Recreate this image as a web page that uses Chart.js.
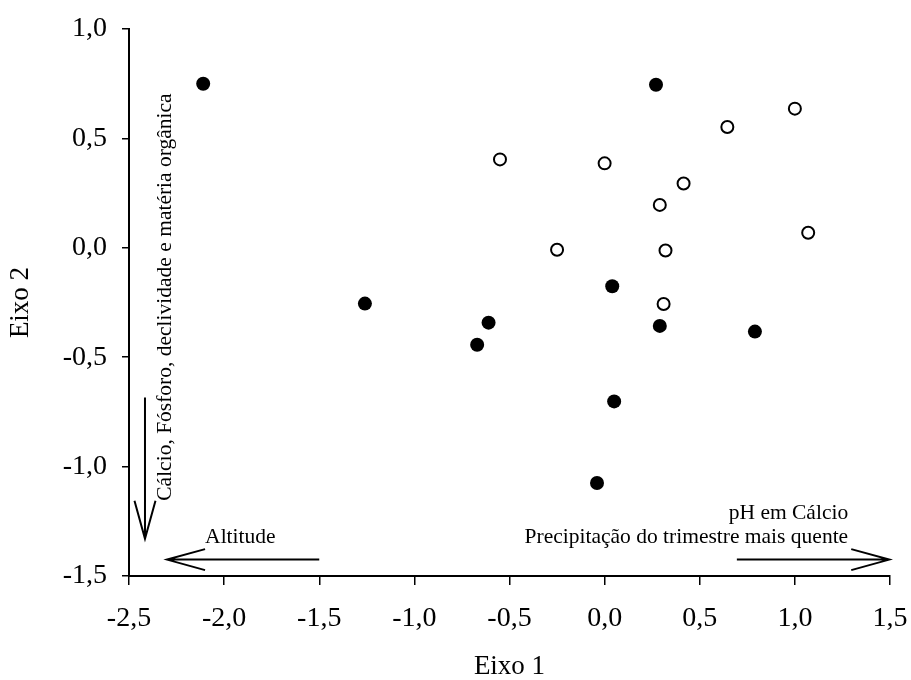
<!DOCTYPE html>
<html>
<head>
<meta charset="utf-8">
<script src="https://cdn.jsdelivr.net/npm/chart.js@4/dist/chart.umd.min.js"></script>
<style>
	body { margin: 0; background: #fff; }
	#chart { display: block; }
</style>
</head>
<body>
<canvas id="chart" width="911" height="680"></canvas>
<script>
// filled points (Eixo 1, Eixo 2)
const filledX = [-2.11, 0.27, -1.26, -0.61, -0.67, 0.04, 0.29, 0.79, 0.05, -0.04];
const filledY = [0.75, 0.745, -0.255, -0.342, -0.443, -0.176, -0.357, -0.383, -0.702, -1.075];

// open points
const openX = [-0.55, 0.0, -0.25, 1.0, 0.645, 0.415, 0.29, 1.07, 0.32, 0.31];
const openY = [0.404, 0.386, -0.009, 0.636, 0.552, 0.294, 0.196, 0.069, -0.012, -0.257];

const xTicks = [-2.5, -2.0, -1.5, -1.0, -0.5, 0.0, 0.5, 1.0, 1.5];
const yTicks = [-1.5, -1.0, -0.5, 0.0, 0.5, 1.0];

// vector arrows, in axis units
const arrows = [
	{ from: [-2.416, -0.684], to: [-2.416, -1.33] },
	{ from: [-1.5, -1.425], to: [-2.30, -1.425] },
	{ from: [0.695, -1.425], to: [1.496, -1.425] },
];

// arrow labels, in axis units
const arrowLabels = [
	{ text: "Altitude", at: [-2.10, -1.35], align: "left", rot: 0 },
	{ text: "pH em Cálcio", at: [1.28, -1.238], align: "right", rot: 0 },
	{ text: "Precipitação do trimestre mais quente", at: [1.28, -1.35], align: "right", rot: 0 },
	{ text: "Cálcio, Fósforo, declividade e matéria orgânica", at: [-2.279, -1.156], align: "left", rot: -Math.PI / 2 },
];

const toPoints = (xs, ys) => xs.map((x, i) => ({ x: x, y: ys[i] }));
const fmt = (v) => (Math.abs(v) < 1e-9 ? 0 : v).toFixed(1).replace(".", ",");

const arrowPlugin = {
	id: "arrows",
	afterDraw(chart) {
		const ctx = chart.ctx;
		const sx = chart.scales.x;
		const sy = chart.scales.y;
		ctx.save();
		ctx.strokeStyle = "#000";
		ctx.lineWidth = 2;
		arrows.forEach((a) => {
			const x1 = sx.getPixelForValue(a.from[0]);
			const y1 = sy.getPixelForValue(a.from[1]);
			const x2 = sx.getPixelForValue(a.to[0]);
			const y2 = sy.getPixelForValue(a.to[1]);
			const ang = Math.atan2(y2 - y1, x2 - x1);
			const len = 38;
			const half = 10.5;
			const bx = x2 - len * Math.cos(ang);
			const by = y2 - len * Math.sin(ang);
			const px = -Math.sin(ang) * half;
			const py = Math.cos(ang) * half;
			ctx.beginPath();
			ctx.moveTo(x1, y1);
			ctx.lineTo(x2, y2);
			ctx.moveTo(bx + px, by + py);
			ctx.lineTo(x2, y2);
			ctx.lineTo(bx - px, by - py);
			ctx.stroke();
		});
		ctx.fillStyle = "#000";
		ctx.textBaseline = "alphabetic";
		ctx.font = "21.5px 'Liberation Serif', 'Times New Roman', serif";
		arrowLabels.forEach((l) => {
			ctx.save();
			ctx.translate(sx.getPixelForValue(l.at[0]), sy.getPixelForValue(l.at[1]));
			ctx.rotate(l.rot);
			ctx.textAlign = l.align;
			ctx.fillText(l.text, 0, 0);
			ctx.restore();
		});
		ctx.restore();
	},
};

const serif = "'Liberation Serif', 'Times New Roman', serif";
const tickFont = { family: serif, size: 28 };

new Chart(document.getElementById("chart").getContext("2d"), {
	type: "scatter",
	data: {
		datasets: [
			{
				data: toPoints(openX, openY),
				backgroundColor: "#fff",
				borderColor: "#000",
				borderWidth: 2,
				pointRadius: 6,
			},
			{
				data: toPoints(filledX, filledY),
				backgroundColor: "#000",
				borderColor: "#000",
				borderWidth: 0,
				pointRadius: 7,
			},
		],
	},
	options: {
		responsive: false,
		animation: false,
		layout: { padding: { top: 29, right: 21, left: 0, bottom: 0 } },
		plugins: {
			legend: { display: false },
			tooltip: { enabled: false },
		},
		scales: {
			x: {
				type: "linear",
				min: -2.5,
				max: 1.5,
				afterFit: (s) => { s.height = 104; s.paddingLeft = 0; s.paddingRight = 0; },
				afterBuildTicks: (s) => { s.ticks = xTicks.map((v) => ({ value: v })); },
				grid: { display: true, drawOnChartArea: false, drawTicks: true, tickLength: 9, color: "#000", lineWidth: 1.5 },
				border: { display: true, color: "#000", width: 2 },
				ticks: { color: "#000", font: tickFont, padding: 17, maxRotation: 0, autoSkip: false, callback: fmt },
				title: {
					display: true,
					text: "Eixo 1",
					color: "#000",
					font: { family: serif, size: 27, lineHeight: 1 },
					padding: { top: 0, bottom: 0 },
				},
			},
			y: {
				type: "linear",
				min: -1.5,
				max: 1.0,
				afterFit: (s) => { s.width = 129; s.paddingTop = 0; s.paddingBottom = 0; },
				afterBuildTicks: (s) => { s.ticks = yTicks.map((v) => ({ value: v })); },
				grid: { display: true, drawOnChartArea: false, drawTicks: true, tickLength: 7, color: "#000", lineWidth: 1.5 },
				border: { display: true, color: "#000", width: 2 },
				ticks: { color: "#000", font: tickFont, padding: 15, autoSkip: false, callback: fmt },
				title: {
					display: true,
					text: "Eixo 2",
					color: "#000",
					font: { family: serif, size: 27, lineHeight: 1 },
					padding: { top: 7, bottom: 0 },
				},
			},
		},
	},
	plugins: [arrowPlugin],
});
</script>
</body>
</html>
